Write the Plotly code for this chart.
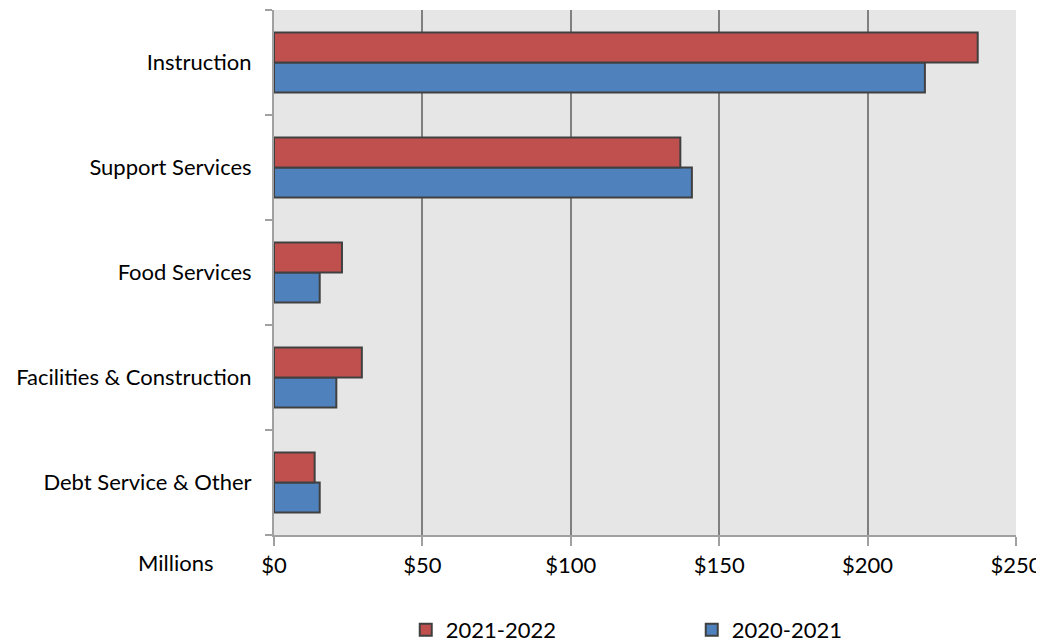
import plotly.graph_objects as go

categories = ["Instruction", "Support Services", "Food Services",
              "Facilities & Construction", "Debt Service & Other"]
values_2021_2022 = [237.1, 136.9, 22.9, 29.6, 13.7]
values_2020_2021 = [219.3, 140.8, 15.4, 21.0, 15.4]
tick_vals = [0, 50, 100, 150, 200, 250]
tick_text = ["$0", "$50", "$100", "$150", "$200", "$250"]

FONT = "Lato, Carlito, Calibri, sans-serif"
FS = 22

fig = go.Figure()
fig.add_trace(go.Bar(
    y=categories, x=values_2020_2021, name="2020-2021", orientation="h",
    marker=dict(color="#4F81BD", line=dict(color="#404040", width=2)),
    legendrank=2,
))
fig.add_trace(go.Bar(
    y=categories, x=values_2021_2022, name="2021-2022", orientation="h",
    marker=dict(color="#C0504D", line=dict(color="#404040", width=2)),
    legendrank=1,
))

fig.update_layout(
    width=1036, height=636,
    margin=dict(l=266, r=28, t=2, b=109),
    paper_bgcolor="white", plot_bgcolor="#E6E6E6",
    barmode="group", bargap=0.43, bargroupgap=0,
    font=dict(family=FONT, size=FS, color="black"),
    showlegend=True,
    legend=dict(orientation="h", xref="paper", x=0.563, xanchor="center",
                yref="container", y=0.022, yanchor="middle",
                font=dict(size=FS), entrywidth=241, itemwidth=30,
                bgcolor="rgba(0,0,0,0)"),
)
fig.update_xaxes(
    range=[0, 250], tickvals=tick_vals, ticktext=tick_text,
    showgrid=True, gridcolor="#808080", gridwidth=2,
    showline=True, linecolor="#A0A0A0", linewidth=2,
    ticks="outside", ticklen=9, tickcolor="#A0A0A0", tickwidth=2,
    ticklabelstandoff=1, zeroline=False, automargin=False,
)
fig.update_yaxes(
    categoryorder="array", categoryarray=categories[::-1],
    showline=True, linecolor="#A0A0A0", linewidth=2,
    ticks="outside", ticklen=7, tickcolor="#A0A0A0", tickwidth=2,
    tickson="boundaries", ticklabelstandoff=16, showgrid=False,
    automargin=False,
)
fig.add_annotation(text="Millions", xref="paper", yref="paper",
                   x=-0.08, y=-0.052, xanchor="right", yanchor="middle",
                   showarrow=False, font=dict(size=FS, family=FONT))

fig.write_html("out.html")
